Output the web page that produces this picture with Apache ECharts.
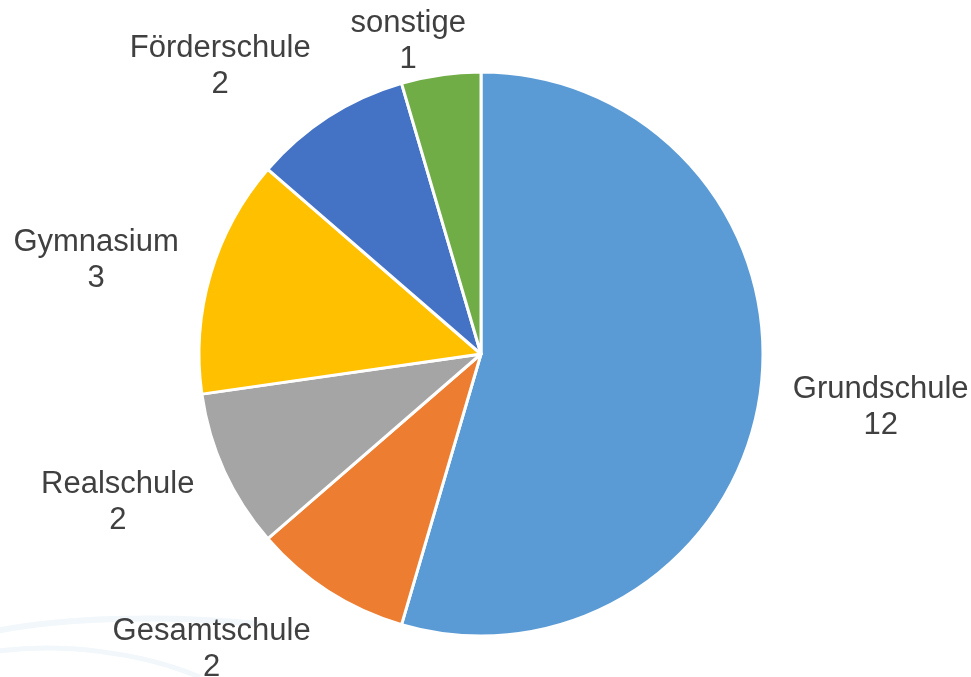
<!DOCTYPE html>
<html>
<head>
<meta charset="utf-8">
<script src="https://cdn.jsdelivr.net/npm/echarts@6/dist/echarts.min.js"></script>
<style>
  html, body { margin: 0; padding: 0; background: #fff; }
  #chart { width: 971px; height: 677px; }
</style>
</head>
<body>
<div id="chart"></div>
<script>
  // Schularten und Anzahl
  var categories = ['Grundschule', 'Gesamtschule', 'Realschule', 'Gymnasium', 'Förderschule', 'sonstige'];
  var values = [12, 2, 2, 3, 2, 1];
  var colors = ['#5b9bd5', '#ed7d31', '#a5a5a5', '#ffc000', '#4472c4', '#70ad47'];

  var cx = 481, cy = 354, r = 282;
  var labelR = 315;   // Abstand der Beschriftung vom Mittelpunkt
  var topMargin = 5;

  // Winkel der Segmentmitte (im Uhrzeigersinn ab oben)
  var total = values.reduce(function (a, b) { return a + b; }, 0);
  var midAngles = [];
  var acc = 0;
  values.forEach(function (v) {
    midAngles.push((acc + v / 2) / total * Math.PI * 2);
    acc += v;
  });

  function clamp(v) { return Math.max(-1, Math.min(1, v)); }

  var chart = echarts.init(document.getElementById('chart'));
  chart.setOption({
    animation: false,
    graphic: [
      { type: 'bezierCurve', silent: true, z: -10,
        shape: { x1: -10, y1: 632, cpx1: 60, cpy1: 618, cpx2: 160, cpy2: 614, x2: 260, y2: 624 },
        style: { fill: null, stroke: '#f1f7fb', lineWidth: 6 } },
      { type: 'bezierCurve', silent: true, z: -10,
        shape: { x1: -10, y1: 652, cpx1: 60, cpy1: 642, cpx2: 140, cpy2: 652, x2: 200, y2: 677 },
        style: { fill: null, stroke: '#f1f7fb', lineWidth: 5 } }
    ],
    series: [{
      type: 'pie',
      center: [cx, cy],
      radius: r,
      startAngle: 90,
      clockwise: true,
      data: categories.map(function (c, i) {
        return { name: c, value: values[i], itemStyle: { color: colors[i] } };
      }),
      itemStyle: { borderColor: '#fff', borderWidth: 3 },
      label: {
        show: true,
        position: 'inside',
        formatter: '{b}\n{c}',
        color: '#404040',
        fontFamily: 'Liberation Sans, Arial, sans-serif',
        fontSize: 31,
        lineHeight: 36
      },
      labelLine: { show: false },
      labelLayout: function (p) {
        var a = midAngles[p.dataIndex];
        var dx = Math.sin(a), dy = -Math.cos(a);
        var hw = p.labelRect.width / 2;
        var hh = p.labelRect.height * 0.4;
        var x = cx + labelR * dx + hw * clamp(3.4 * dx);
        var y = cy + labelR * dy + hh * clamp(1.1 * dy) + 4;
        y = Math.max(y, topMargin + p.labelRect.height / 2);
        return { x: x, y: y, align: 'center', verticalAlign: 'middle' };
      },
      emphasis: { disabled: true }
    }]
  });
</script>
</body>
</html>
